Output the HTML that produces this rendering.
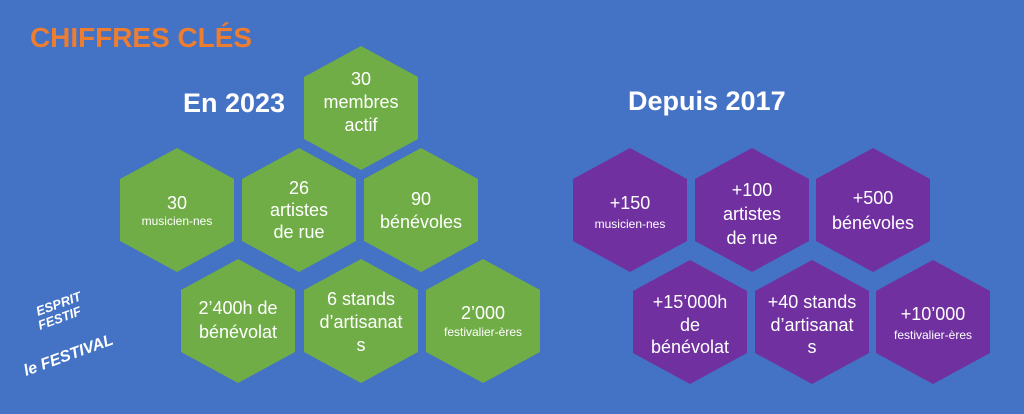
<!DOCTYPE html>
<html><head><meta charset="utf-8"><style>
body{margin:0;width:1024px;height:414px;background:#4472c4;overflow:hidden;font-family:"Liberation Sans",sans-serif}
svg{position:absolute;left:0;top:0}
</style></head><body>
<svg width="1024" height="414" viewBox="0 0 1024 414">
<defs><polygon id="h" points="0,-62 57,-31 57,31 0,62 -57,31 -57,-31"/></defs>
<text x="30" y="47" font-size="28" font-weight="bold" fill="#ed7d31" textLength="222" lengthAdjust="spacingAndGlyphs">CHIFFRES CLÉS</text>
<text x="183" y="112" font-size="27" font-weight="bold" fill="#fff">En 2023</text>
<text x="628" y="110" font-size="27" font-weight="bold" fill="#fff">Depuis 2017</text>
<g fill="#70ad47">
<use href="#h" x="361" y="108"/>
<use href="#h" x="177" y="210"/><use href="#h" x="299" y="210"/><use href="#h" x="421" y="210"/>
<use href="#h" x="238" y="321"/><use href="#h" x="361" y="321"/><use href="#h" x="483" y="321"/>
</g>
<g fill="#7030a0">
<use href="#h" x="630" y="210"/><use href="#h" x="752" y="210"/><use href="#h" x="873" y="210"/>
<use href="#h" x="690" y="322"/><use href="#h" x="812" y="322"/><use href="#h" x="933" y="322"/>
</g>
<g fill="#fff" text-anchor="middle" font-size="18">
<text x="361" y="85">30</text><text x="361" y="108">membres</text><text x="361" y="131">actif</text>
<text x="177" y="209">30</text><text x="177" y="225" font-size="12">musicien-nes</text>
<text x="299" y="194">26</text><text x="299" y="216">artistes</text><text x="299" y="238">de rue</text>
<text x="421" y="205">90</text><text x="421" y="228">bénévoles</text>
<text x="238" y="314">2’400h de</text><text x="238" y="338">bénévolat</text>
<text x="361" y="305">6 stands</text><text x="361" y="328">d’artisanat</text><text x="361" y="351">s</text>
<text x="483" y="319">2’000</text><text x="483" y="336" font-size="12">festivalier-ères</text>
<text x="630" y="209">+150</text><text x="630" y="228" font-size="12">musicien-nes</text>
<text x="752" y="196">+100</text><text x="752" y="220">artistes</text><text x="752" y="244">de rue</text>
<text x="873" y="204">+500</text><text x="873" y="229">bénévoles</text>
<text x="690" y="308">+15’000h</text><text x="690" y="331">de</text><text x="690" y="353">bénévolat</text>
<text x="812" y="308">+40 stands</text><text x="812" y="331">d’artisanat</text><text x="812" y="353">s</text>
<text x="933" y="320">+10’000</text><text x="933" y="339" font-size="12">festivalier-ères</text>
</g>
<g fill="#fff" font-weight="bold" font-style="italic">
<text x="38" y="316" font-size="13" transform="rotate(-20 38 316)">ESPRIT</text>
<text x="40" y="330" font-size="13" transform="rotate(-20 40 330)">FESTIF</text>
<text x="26" y="376" font-size="16" transform="rotate(-20 26 376)">le FESTIVAL</text>
</g>
</svg>
</body></html>
